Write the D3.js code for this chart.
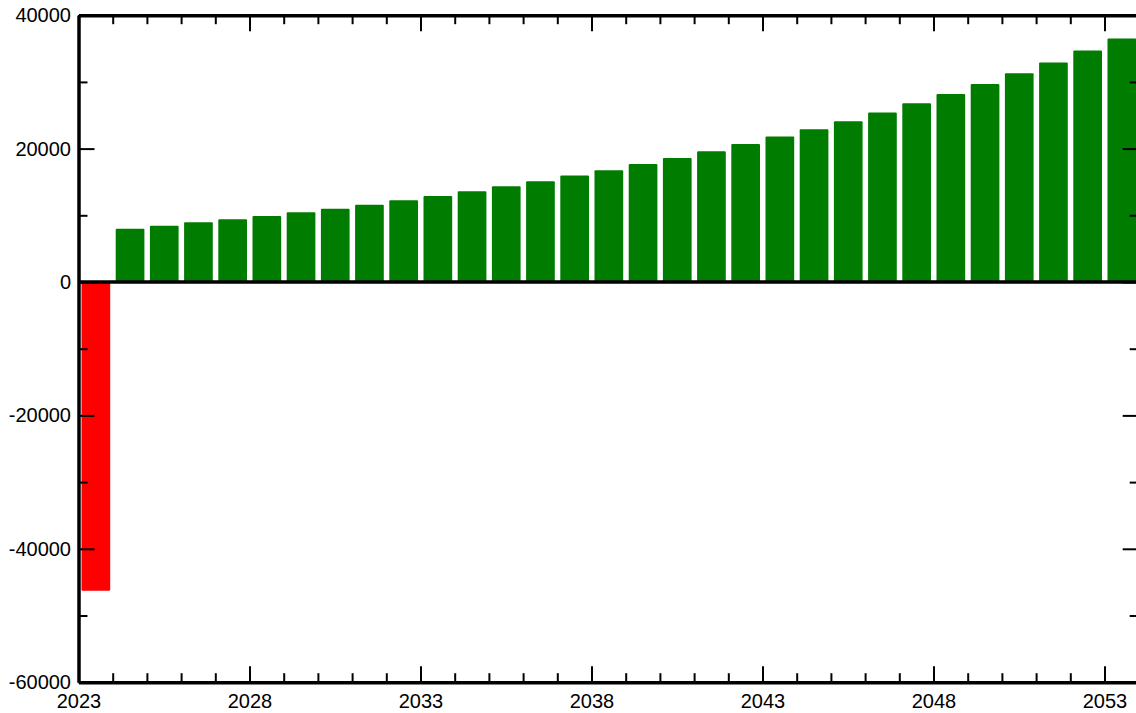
<!DOCTYPE html>
<html>
<head>
<meta charset="utf-8">
<script src="https://cdn.jsdelivr.net/npm/d3@7"></script>
<style>
  html, body { margin: 0; padding: 0; background: #fff; overflow: hidden; }
  svg { display: block; }
  .axis text { font-family: "Liberation Sans", Arial, sans-serif; font-size: 20px; fill: #000; }
</style>
</head>
<body>
<div id="chart"></div>
<script>
// years on the x axis, one bar per year
const years = [2023, 2024, 2025, 2026, 2027, 2028, 2029, 2030, 2031, 2032, 2033,
  2034, 2035, 2036, 2037, 2038, 2039, 2040, 2041, 2042, 2043, 2044, 2045,
  2046, 2047, 2048, 2049, 2050, 2051, 2052, 2053];

// yearly net value (first year is the outlay)
const values = [-46300, 8000, 8450, 8950, 9400, 9900, 10450, 11000, 11600, 12250, 12900,
  13600, 14350, 15100, 15950, 16750, 17700, 18600, 19600, 20700, 21800, 22900, 24100,
  25400, 26800, 28200, 29700, 31300, 32900, 34700, 36500];

const xMajorTicks = [2023, 2028, 2033, 2038, 2043, 2048, 2053];
const xMinorTicks = d3.range(2023, 2055);
const yMajorTicks = [-60000, -40000, -20000, 0, 20000, 40000];
const yMinorTicks = [-50000, -30000, -10000, 10000, 30000];

const width = 1136;
const height = 713;
const plotLeft = 78.5, plotRight = 1138.7, plotTop = 15.2, plotBottom = 682.2;

const data = years.map((yr, i) => ({ year: yr, value: values[i] }));

const svg = d3.select('#chart')
  .append('svg')
  .attr('width', width)
  .attr('height', height);

const x = d3.scaleLinear()
  .domain([2023, 2054])
  .range([plotLeft, plotRight]);

const y = d3.scaleLinear()
  .domain([-60000, 40000])
  .range([plotBottom, plotTop]);

// bars
svg.selectAll('.bar')
  .data(data)
  .enter()
  .append('rect')
  .attr('class', 'bar')
  .attr('x', d => x(d.year) + 3)
  .attr('width', d => x(d.year + 1) - x(d.year) - 5.5)
  .attr('y', d => y(Math.max(0, d.value)))
  .attr('height', d => Math.abs(y(d.value) - y(0)))
  .attr('rx', 1)
  .attr('fill', d => d.value < 0 ? '#ff0000' : '#007c00');

// zero line
svg.append('line')
  .attr('x1', plotLeft)
  .attr('x2', plotRight)
  .attr('y1', y(0))
  .attr('y2', y(0))
  .attr('stroke', '#000')
  .attr('stroke-width', 3.5);

function styleAxis(g, showDomain) {
  g.attr('class', 'axis');
  g.selectAll('.tick line').attr('stroke', '#000').attr('stroke-width', 2);
  if (showDomain) {
    g.select('.domain').attr('stroke', '#000').attr('stroke-width', 3.5);
  } else {
    g.select('.domain').remove();
  }
}

// bottom axis, ticks pointing up
svg.append('g')
  .attr('transform', `translate(0,${plotBottom})`)
  .call(d3.axisBottom(x).tickValues(xMinorTicks).tickSize(-9).tickSizeOuter(0).tickFormat(''))
  .call(g => styleAxis(g, false));
svg.append('g')
  .attr('transform', `translate(0,${plotBottom})`)
  .call(d3.axisBottom(x).tickValues(xMajorTicks).tickSize(-16).tickSizeOuter(0)
    .tickPadding(12).tickFormat(d3.format('d')))
  .call(g => styleAxis(g, true));

// top axis, ticks pointing down
svg.append('g')
  .attr('transform', `translate(0,${plotTop})`)
  .call(d3.axisTop(x).tickValues(xMinorTicks).tickSize(-9).tickSizeOuter(0).tickFormat(''))
  .call(g => styleAxis(g, false));
svg.append('g')
  .attr('transform', `translate(0,${plotTop})`)
  .call(d3.axisTop(x).tickValues(xMajorTicks).tickSize(-16).tickSizeOuter(0).tickFormat(''))
  .call(g => styleAxis(g, true));

// left axis, ticks pointing right
svg.append('g')
  .attr('transform', `translate(${plotLeft},0)`)
  .call(d3.axisLeft(y).tickValues(yMinorTicks).tickSize(-9).tickSizeOuter(0).tickFormat(''))
  .call(g => styleAxis(g, false));
svg.append('g')
  .attr('transform', `translate(${plotLeft},0)`)
  .call(d3.axisLeft(y).tickValues(yMajorTicks).tickSize(-16).tickSizeOuter(0)
    .tickPadding(7.5).tickFormat(d => String(d)))
  .call(g => styleAxis(g, true));

// right axis, ticks pointing left (mostly off the page edge)
svg.append('g')
  .attr('transform', `translate(${plotRight},0)`)
  .call(d3.axisRight(y).tickValues(yMinorTicks).tickSize(-9).tickSizeOuter(0).tickFormat(''))
  .call(g => styleAxis(g, false));
svg.append('g')
  .attr('transform', `translate(${plotRight},0)`)
  .call(d3.axisRight(y).tickValues(yMajorTicks).tickSize(-16).tickSizeOuter(0).tickFormat(''))
  .call(g => styleAxis(g, true));
</script>
</body>
</html>
